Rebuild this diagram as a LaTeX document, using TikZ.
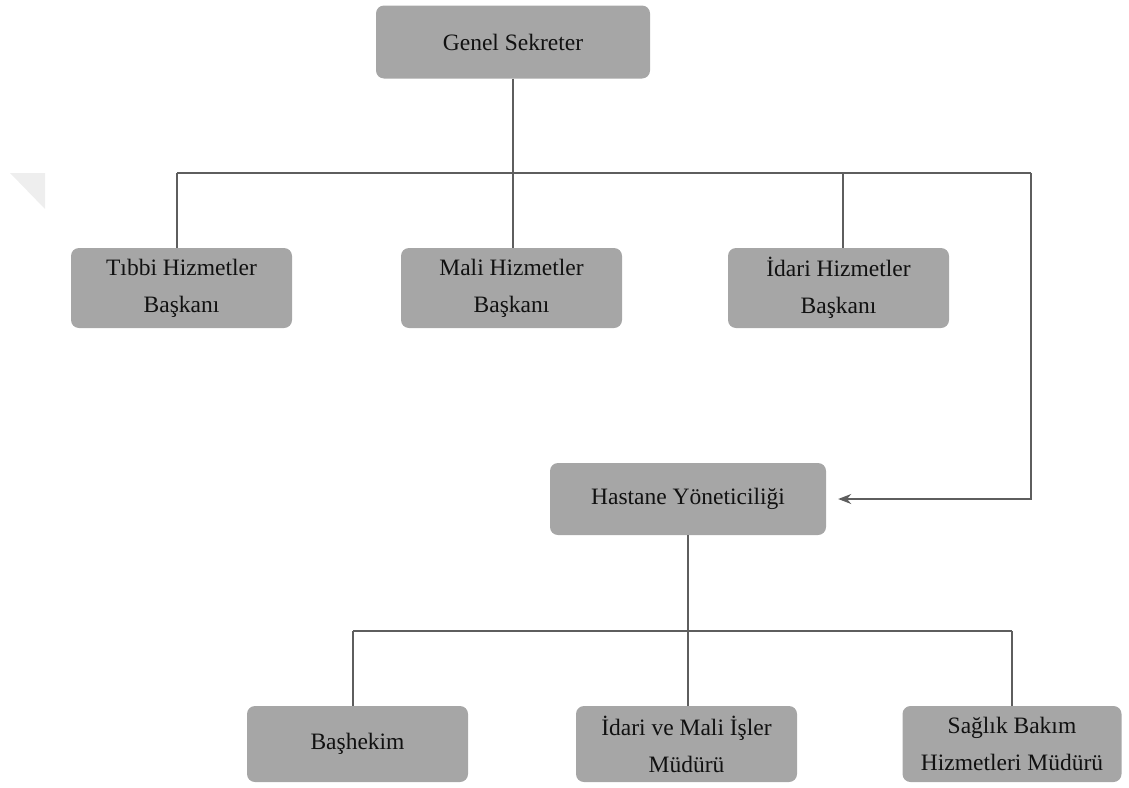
\documentclass[tikz,border=0pt]{standalone}
\usepackage{fontspec}
\setmainfont{Liberation Serif}
\usetikzlibrary{arrows.meta}
\definecolor{boxgray}{HTML}{A6A6A6}
\definecolor{linegray}{HTML}{5E5E5E}
\definecolor{txt}{HTML}{111111}
\definecolor{wm}{HTML}{EEEEEE}
\begin{document}
\begin{tikzpicture}[x=1pt,y=-1pt,
  orgbox/.style={rectangle, rounded corners=8pt, fill=boxgray, draw=none,
    text=txt, align=center, inner sep=0pt,
    font=\fontsize{23.5}{37}\selectfont},
  conn/.style={draw=linegray, line width=1.4pt},
  arr/.style={conn, -{Stealth[length=13pt,width=10pt]}, shorten >=12pt}]
\useasboundingbox (0,0) rectangle (1129,787);
\fill[wm] (10,173) -- (45,173) -- (45,209) -- cycle;

\node[orgbox, minimum width=274pt, minimum height=73pt] (gs) at (513,42) {Genel Sekreter};
\node[orgbox, minimum width=221pt, minimum height=80pt] (tib) at (181.5,288) {Tıbbi Hizmetler\\Başkanı};
\node[orgbox, minimum width=221pt, minimum height=80pt] (mal) at (511.5,288) {Mali Hizmetler\\Başkanı};
\node[orgbox, minimum width=221pt, minimum height=80pt] (ida) at (838.5,288) {İdari Hizmetler\\Başkanı};
\node[orgbox, minimum width=276pt, minimum height=72pt] (has) at (688,499) {Hastane Yöneticiliği};
\node[orgbox, minimum width=221pt, minimum height=76pt] (bas) at (357.5,744) {Başhekim};
\node[orgbox, minimum width=221pt, minimum height=76pt] (imm) at (686.5,744) {İdari ve Mali İşler\\Müdürü};
\node[orgbox, minimum width=219pt, minimum height=76pt] (sag) at (1012,744) {Sağlık Bakım\\Hizmetleri Müdürü};

% top level bar
\coordinate (t1) at (177,173);
\coordinate (t2) at (513,173);
\coordinate (t3) at (843,173);
\coordinate (t4) at (1031,173);
\coordinate (t5) at (1031,499);
\draw[conn] (gs.south) -- (t2);
\draw[conn] (t1) -- (t4);
\draw[conn] (t1) -- (t1 |- tib.north);
\draw[conn] (t2) -- (t2 |- mal.north);
\draw[conn] (t3) -- (t3 |- ida.north);
\draw[arr] (t4) -- (t5) -- (has.east);

% bottom level bar
\coordinate (b1) at (353,631);
\coordinate (b2) at (688,631);
\coordinate (b3) at (1012,631);
\draw[conn] (has.south) -- (b2);
\draw[conn] (b1) -- (b3);
\draw[conn] (b1) -- (b1 |- bas.north);
\draw[conn] (b2) -- (b2 |- imm.north);
\draw[conn] (b3) -- (b3 |- sag.north);
\end{tikzpicture}
\end{document}
